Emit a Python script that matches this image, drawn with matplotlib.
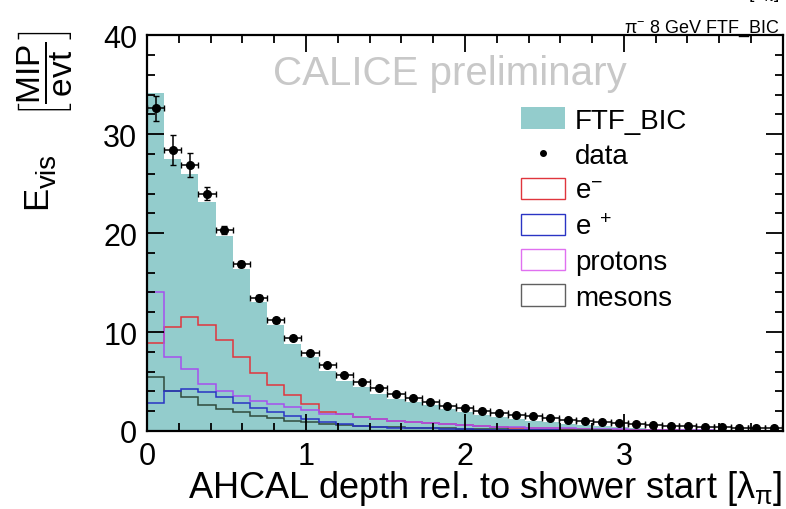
import numpy as np
import matplotlib
matplotlib.use("Agg")
import matplotlib.pyplot as plt
from matplotlib.patches import Patch
from matplotlib.lines import Line2D
from matplotlib.ticker import MultipleLocator

plt.rcParams['font.family'] = ['Liberation Sans', 'DejaVu Sans']
plt.rcParams['mathtext.fontset'] = 'custom'
plt.rcParams['mathtext.rm'] = 'Liberation Sans'
plt.rcParams['mathtext.it'] = 'Liberation Sans:italic'
plt.rcParams['mathtext.bf'] = 'Liberation Sans:bold'

# binning: 37 bins of ~0.108 lambda_pi
bin_width = 0.108
n_bins = 37
edges = np.arange(n_bins + 1) * bin_width
centers = edges[:-1] + bin_width / 2

# data points
data = [32.6, 28.4, 26.9, 24.0, 20.3, 16.9, 13.4, 11.2, 9.4, 7.9, 6.7, 5.7,
        5.0, 4.3, 3.7, 3.3, 2.9, 2.5, 2.3, 2.0, 1.8, 1.6, 1.5, 1.3, 1.1, 1.0,
        0.9, 0.8, 0.7, 0.6, 0.5, 0.5, 0.45, 0.4, 0.35, 0.3, 0.25]
data_err = [1.3, 1.5, 1.2, 0.7, 0.4, 0.3, 0.3, 0.25, 0.2, 0.2, 0.15, 0.15,
            0.12, 0.1, 0.1, 0.1, 0.08, 0.08, 0.07, 0.07, 0.06, 0.06, 0.05, 0.05,
            0.05, 0.05, 0.04, 0.04, 0.04, 0.04, 0.03, 0.03, 0.03, 0.03, 0.03,
            0.03, 0.03]

# simulation FTF_BIC total
sim = [34.2, 27.5, 26.0, 23.1, 19.7, 16.4, 13.0, 10.7, 8.8, 7.5, 6.1, 5.1,
       4.4, 3.7, 3.2, 2.9, 2.6, 2.2, 1.9, 1.6, 1.4, 1.2, 1.05, 0.9, 0.75, 0.6,
       0.5, 0.4, 0.3, 0.22, 0.17, 0.13, 0.1, 0.08, 0.06, 0.05, 0.04]

# components
e_minus = [8.9, 10.5, 11.5, 10.7, 9.2, 7.5, 5.9, 4.6, 3.6, 2.7, 1.9, 1.7,
           1.4, 1.2, 1.0, 0.9, 0.8, 0.7, 0.6, 0.5, 0.4, 0.35, 0.3, 0.25, 0.2,
           0.15, 0.12, 0.1, 0.08, 0.06, 0.05, 0.04, 0.03, 0.02, 0.02, 0.01, 0.01]
e_plus = [2.8, 4.0, 4.2, 3.9, 3.4, 2.8, 2.3, 1.9, 1.5, 1.2, 0.9, 0.7, 0.55,
          0.45, 0.35, 0.3, 0.25, 0.2, 0.15, 0.12, 0.1, 0.08, 0.06, 0.05, 0.04,
          0.03, 0.02, 0.02, 0.01, 0.01, 0.01, 0.0, 0.0, 0.0, 0.0, 0.0, 0.0]
protons = [14.0, 7.5, 6.3, 4.7, 4.0, 3.5, 3.0, 2.7, 2.4, 2.1, 1.7, 1.7, 1.4,
           1.2, 1.0, 0.9, 0.8, 0.7, 0.6, 0.5, 0.45, 0.4, 0.35, 0.3, 0.25, 0.2,
           0.18, 0.15, 0.12, 0.1, 0.08, 0.06, 0.05, 0.04, 0.03, 0.02, 0.02]
mesons = [5.5, 4.0, 3.4, 2.6, 2.2, 1.9, 1.5, 1.3, 1.0, 0.9, 0.7, 0.6, 0.5,
          0.45, 0.4, 0.35, 0.3, 0.25, 0.2, 0.18, 0.15, 0.12, 0.1, 0.08, 0.07,
          0.06, 0.05, 0.04, 0.03, 0.03, 0.02, 0.02, 0.01, 0.01, 0.01, 0.01, 0.01]

teal = '#93cccc'
c_em = '#e0353d'
c_ep = '#2a34c4'
c_p = '#a650ee'
c_m = '#2f4a3c'

fig = plt.figure(figsize=(7.86, 5.10), dpi=100)
ax = fig.add_axes([0.187, 0.153, 0.809, 0.776])

ax.stairs(sim, edges, fill=True, color=teal, lw=0)
ax.stairs(e_minus, edges, color=c_em, lw=1.1)
ax.stairs(protons, edges, color=c_p, lw=1.1)
ax.stairs(mesons, edges, color=c_m, lw=1.1)
ax.stairs(e_plus, edges, color=c_ep, lw=1.1)
ax.errorbar(centers, data, yerr=data_err, xerr=bin_width / 2, fmt='o',
            color='black', ms=5.5, elinewidth=1.1, capsize=2, zorder=5)

ax.set_xlim(0, 4.0)
ax.set_ylim(0, 40)
ax.xaxis.set_major_locator(MultipleLocator(1))
ax.xaxis.set_minor_locator(MultipleLocator(0.2))
ax.yaxis.set_major_locator(MultipleLocator(10))
ax.yaxis.set_minor_locator(MultipleLocator(2))
ax.tick_params(which='both', direction='in', top=True, right=True,
               labelsize=22, width=1.3)
ax.tick_params(which='major', length=12, pad=7)
ax.tick_params(which='minor', length=6)
ax.set_xticks([0, 1, 2, 3])
for s in ax.spines.values():
    s.set_linewidth(1.6)

ax.set_xlabel(r'AHCAL depth rel. to shower start [λ$_{\mathrm{\pi}}$]',
              fontsize=26, loc='right', labelpad=-2)

# y title: E_vis [MIP/evt], drawn in pieces
fig.text(0.047, 0.612, 'E', rotation=90, ha='center', va='center',
         fontsize=25)
fig.text(0.062, 0.664, 'vis', rotation=90, ha='center', va='center',
         fontsize=20)
fig.text(0.057, 0.855, r'$\left[\dfrac{\mathrm{MIP}}{\mathrm{evt}}\right]$',
         rotation=90, ha='center', va='center', fontsize=24)

ax.text(0.476, 0.904, 'CALICE preliminary', transform=ax.transAxes,
        ha='center', va='center', fontsize=29, color='#c8c8c8')
fig.text(0.992, 0.936, r'$\mathrm{\pi}^{-}$ 8 GeV FTF_BIC', ha='right',
         va='baseline', fontsize=13)
fig.text(0.992, 1.004, r'[λ$_{\mathrm{\pi}}$]', ha='right', va='baseline',
         fontsize=14)

handles = [Patch(facecolor=teal, edgecolor='none'),
           Line2D([], [], marker='o', ls='none', color='black', ms=4),
           Patch(facecolor='white', edgecolor=c_em),
           Patch(facecolor='white', edgecolor=c_ep),
           Patch(facecolor='white', edgecolor='#e070f0'),
           Patch(facecolor='white', edgecolor='#606060')]
labels = ['FTF_BIC', 'data', r'$\mathrm{e}^{-}$', r'$\mathrm{e}^{\ +}$',
          'protons', 'mesons']
ax.legend(handles, labels, loc='upper left', bbox_to_anchor=(0.566, 0.853),
          frameon=False, fontsize=20, handlelength=1.6, handleheight=0.8,
          labelspacing=0.33, handletextpad=0.36, borderpad=0)

fig.savefig('out.png', dpi=100)
